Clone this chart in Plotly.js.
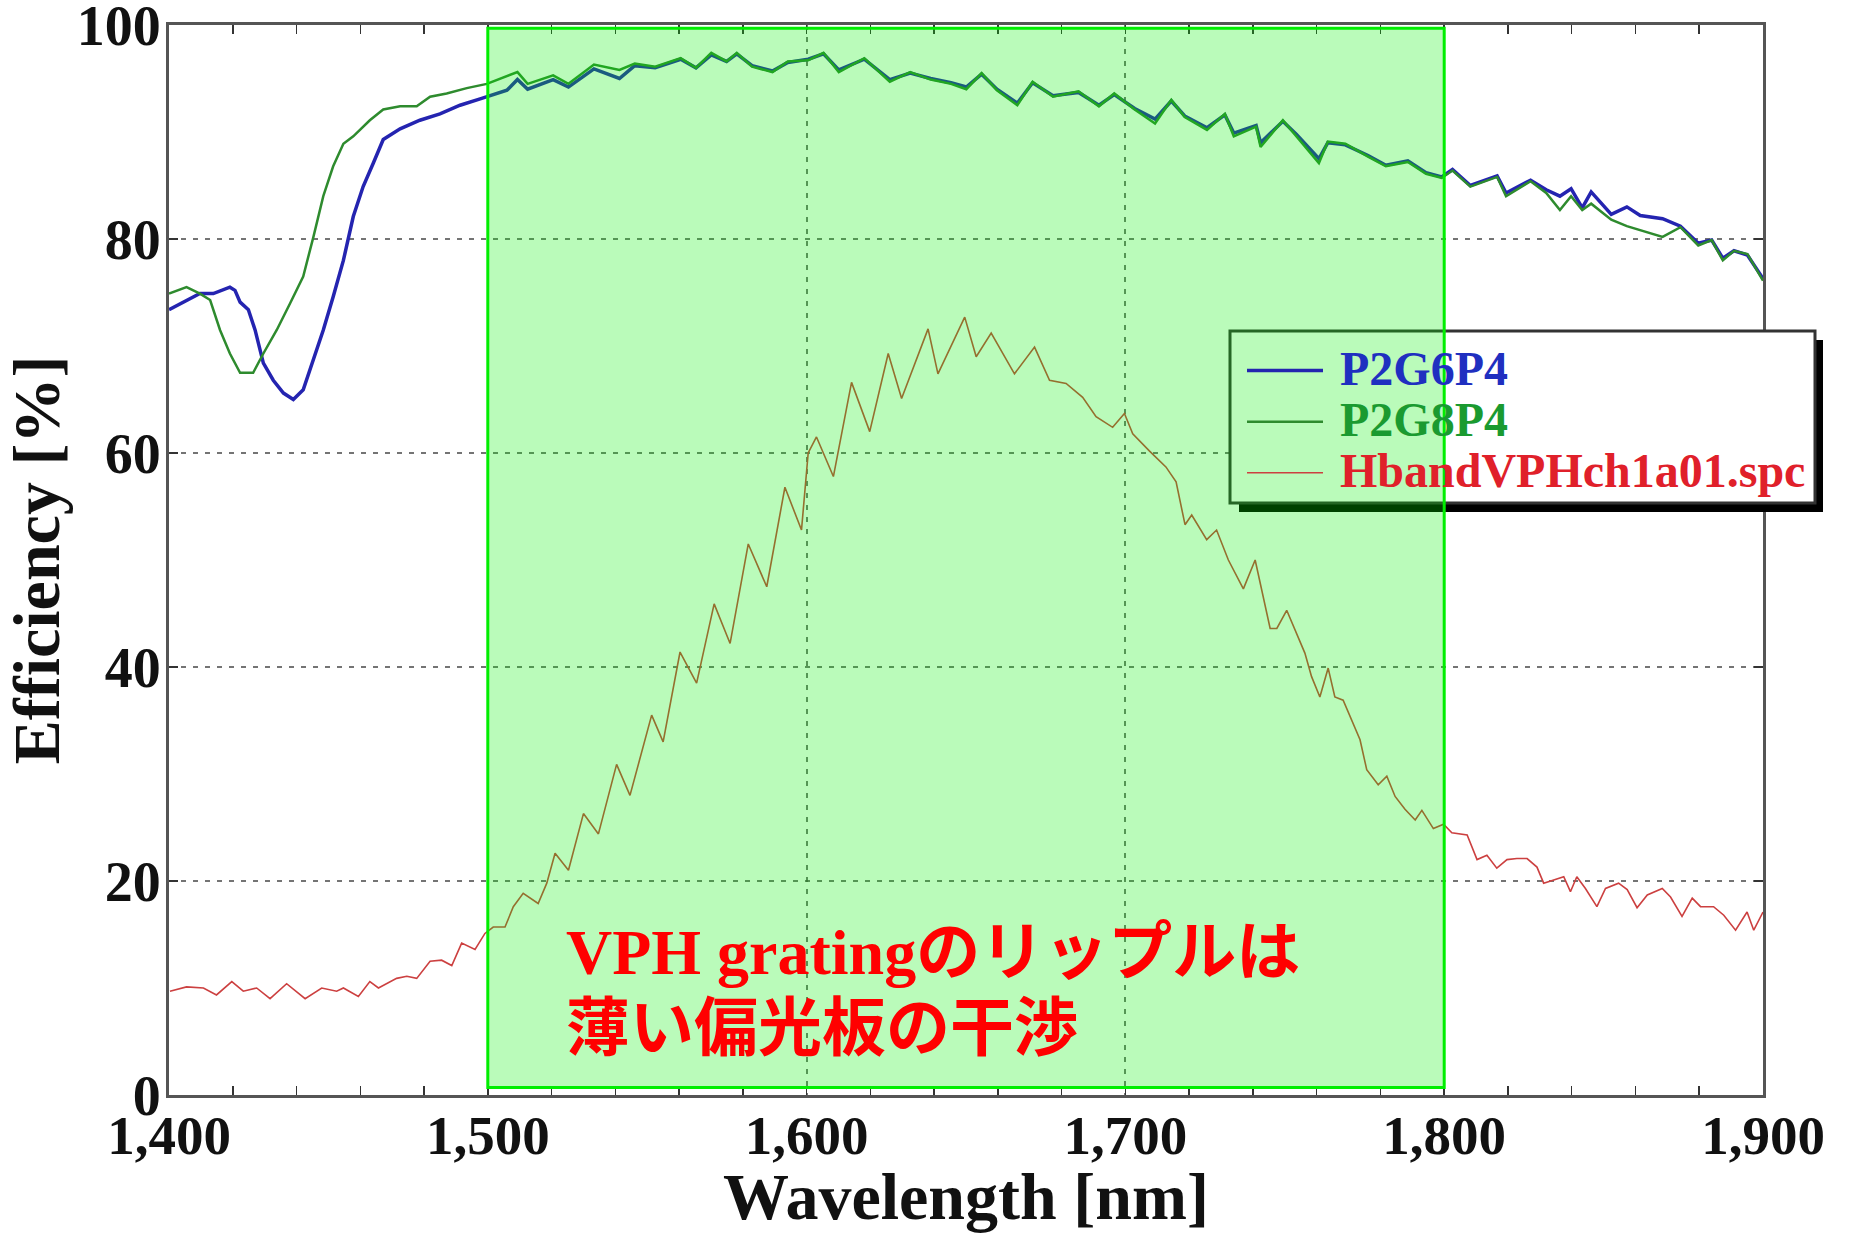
<!DOCTYPE html>
<html>
<head>
<meta charset="utf-8">
<script src="https://cdn.plot.ly/plotly-3.0.1.min.js"></script>
<style>html,body{margin:0;padding:0;background:#fff;}#chart{width:1852px;height:1233px;}</style>
</head>
<body>
<div id="chart"></div>
<script>
// ---- Data ----
const seriesNames = ["P2G6P4", "P2G8P4", "HbandVPHch1a01.spc"];

const p2g6p4_x = [1400,1405.5,1409.7,1413.9,1419.1,1420.7,1422.3,1424.9,1427,1429.6,1432.7,1435.9,1439,1442.1,1445.3,1448.4,1451.5,1454.7,1457.8,1460.9,1464.1,1467.2,1472.5,1478.7,1485,1491.3,1497.6,1501.7,1506,1509.3,1512.5,1520.5,1525.3,1533.3,1541.3,1546.1,1552.5,1560.5,1565.3,1570.1,1574.9,1578.1,1582.9,1589.3,1594.1,1600.5,1605.3,1610.1,1618.1,1626.1,1632.5,1638.9,1645.3,1650.1,1654.9,1659.7,1666.1,1670.9,1677.3,1685.3,1691.7,1696.5,1702.9,1709.3,1714.4,1718.6,1725.6,1731.2,1734,1741,1742.4,1749.4,1753.6,1760.7,1763.5,1769,1776.1,1781.7,1788.6,1794.3,1799.2,1802.6,1808.2,1816.6,1819.4,1827.1,1832,1836.3,1839.8,1843.3,1846.1,1852.4,1857.3,1861.5,1868.5,1874.1,1879.7,1883.9,1887.4,1890.9,1895.1,1900];
const p2g6p4_y = [73.4,74.3,74.9,74.9,75.5,75.2,74.1,73.4,71.5,68.4,66.8,65.6,65.0,65.9,68.7,71.5,74.6,78.0,82.1,84.9,87.1,89.3,90.3,91.1,91.7,92.5,93.1,93.5,93.9,94.9,94.0,94.9,94.2,95.9,95.0,96.2,96.0,96.8,96.0,97.2,96.6,97.3,96.2,95.7,96.5,96.8,97.3,95.8,96.8,94.9,95.5,95.0,94.6,94.2,95.4,94.0,92.7,94.6,93.4,93.7,92.5,93.5,92.2,91.2,92.9,91.5,90.4,91.6,89.9,90.6,89.0,91.0,89.8,87.5,89.0,88.8,87.8,86.9,87.3,86.2,85.8,86.5,85.0,85.9,84.3,85.5,84.6,84.0,84.7,82.9,84.4,82.3,83.0,82.2,81.9,81.2,79.6,79.9,78.2,78.9,78.5,76.3];

const p2g8p4_x = [1400,1405.5,1409.7,1412.9,1416,1419.1,1422.3,1426.4,1429.6,1433.8,1438,1442.1,1445.3,1448.4,1451.5,1454.7,1457.8,1463,1467.2,1472.5,1477.7,1481.9,1487.1,1493.4,1499.7,1509.3,1512.5,1520.5,1525.3,1533.3,1541.3,1546.1,1552.5,1560.5,1565.3,1570.1,1574.9,1578.1,1582.9,1589.3,1594.1,1600.5,1605.3,1610.1,1618.1,1626.1,1632.5,1638.9,1645.3,1650.1,1654.9,1659.7,1666.1,1670.9,1677.3,1685.3,1691.7,1696.5,1702.9,1709.3,1714.4,1718.6,1725.6,1731.2,1734,1741,1742.4,1749.4,1753.6,1760.7,1763.5,1769,1776.1,1781.7,1788.6,1794.3,1799.2,1802.6,1808.2,1816.6,1819.4,1827.1,1832,1836.3,1839.8,1843.3,1846.1,1852.4,1857.3,1861.5,1868.5,1874.1,1879.7,1883.9,1887.4,1890.9,1895.1,1900];
const p2g8p4_y = [74.9,75.5,74.9,74.3,71.5,69.3,67.5,67.5,69.3,71.5,74.0,76.5,80.2,84.0,86.8,88.9,89.6,91.1,92.1,92.4,92.4,93.3,93.6,94.1,94.5,95.6,94.5,95.3,94.5,96.3,95.8,96.4,96.1,96.9,96.0,97.4,96.6,97.4,96.1,95.6,96.6,96.7,97.4,95.6,96.9,94.7,95.6,94.9,94.5,94.0,95.5,93.9,92.5,94.7,93.3,93.8,92.4,93.6,92.1,90.8,93.0,91.4,90.2,91.7,89.6,90.5,88.6,91.1,89.6,87.1,89.1,88.9,87.7,86.8,87.2,86.1,85.7,86.4,84.9,85.8,84.0,85.4,84.3,82.7,84.0,82.7,83.3,81.8,81.2,80.8,80.2,81.1,79.4,79.9,78.0,78.9,78.6,76.1];

const hband_x = [1400.3,1405.5,1410.8,1414.9,1419.7,1423.3,1427.5,1431.7,1436.9,1442.7,1447.9,1452.6,1454.7,1459.4,1463,1465.7,1471.4,1474.6,1477.7,1481.9,1485.5,1488.7,1491.8,1496,1499.1,1501.7,1505.4,1508,1511.1,1515.8,1518.5,1521.1,1525.3,1530,1534.7,1540.4,1544.6,1551.4,1555,1560.3,1565.5,1571,1576,1581.7,1587.5,1593.2,1598.4,1600.5,1603.1,1608.4,1614.1,1619.8,1625.6,1629.8,1638.1,1641.2,1649.6,1653.2,1657.9,1665.2,1671.5,1676.2,1681.4,1686.6,1690.8,1696,1699.7,1702.3,1707.5,1712.7,1715.9,1718.7,1720.8,1725.5,1728.6,1732.3,1737,1740.7,1745.4,1747.5,1750.6,1753.7,1756.3,1758.4,1761,1763.6,1765.7,1768.3,1771.5,1773.6,1775.7,1779.3,1782,1784.6,1787.7,1790.9,1793,1796.6,1799.8,1802.4,1807.2,1810.3,1813.4,1816.5,1819.7,1822.8,1826,1829.1,1831.2,1837.5,1839.6,1841.6,1844.3,1847.9,1850.6,1854.7,1857.4,1860.5,1863.7,1868.4,1871,1874.6,1877.8,1880.4,1884.5,1887.7,1891.4,1895,1897.1,1900];
const hband_y = [9.7,10.1,10.0,9.35,10.6,9.7,10.0,9.0,10.4,9.0,10.0,9.7,10.0,9.2,10.6,10.0,10.9,11.1,10.9,12.5,12.6,12.1,14.2,13.6,15.1,15.7,15.7,17.6,18.85,17.9,19.8,22.6,21.0,26.3,24.4,30.9,28.0,35.5,33.0,41.4,38.5,45.9,42.2,51.5,47.5,56.8,52.8,60.0,61.5,57.8,66.6,62.0,69.3,65.1,71.6,67.4,72.7,69.0,71.2,67.4,69.9,66.8,66.5,65.2,63.4,62.4,63.7,61.8,60.2,58.7,57.3,53.3,54.2,51.9,52.8,50.0,47.3,50.0,43.6,43.6,45.3,43.1,41.3,39.1,37.2,39.9,37.2,36.9,34.7,33.2,30.4,29.0,29.8,27.9,26.7,25.7,26.6,24.9,25.3,24.5,24.3,22.0,22.4,21.2,22.0,22.1,22.1,21.3,19.8,20.4,19.0,20.4,19.3,17.6,19.3,19.8,19.2,17.5,18.7,19.3,18.5,16.7,18.4,17.6,17.6,16.8,15.4,17.1,15.4,17.1];

const xTickVals = [1400, 1500, 1600, 1700, 1800, 1900];
const yTickVals = [0, 20, 40, 60, 80, 100];
const bandRange = [1500, 1800];
const noteLines = ["VPH gratingのリップルは", "薄い偏光板の干渉"];
const xTitle = "Wavelength [nm]";
const yTitle = "Efficiency [%]";

// ---- Styling ----
const serif = "'Liberation Serif', 'Times New Roman', 'Noto Sans CJK JP', serif";
const lineColors = ["#2424b0", "#2e8b2e", "#cc4040"];
const textColors = ["#1f2fc0", "#1a9a30", "#e0202a"];
const lineWidths = [3.5, 2.5, 1.6];

function legendName(i) {
  return '<span style="font-size:48px;color:' + textColors[i] + '"> ' + seriesNames[i] + '</span>';
}

const traces = [
  {x: p2g6p4_x, y: p2g6p4_y, name: legendName(0), type: 'scatter', mode: 'lines',
   line: {color: lineColors[0], width: lineWidths[0]}},
  {x: p2g8p4_x, y: p2g8p4_y, name: legendName(1), type: 'scatter', mode: 'lines',
   line: {color: lineColors[1], width: lineWidths[1]}},
  {x: hband_x, y: hband_y, name: legendName(2), type: 'scatter', mode: 'lines',
   line: {color: lineColors[2], width: lineWidths[2]}}
];

const L = 169, R = 1763, T = 25, B = 1095;
function px(v) { return (v - L) / (R - L); }
function py(v) { return (B - v) / (B - T); }

const gridStyle = {showgrid: true, gridcolor: 'rgba(70,70,70,0.75)', gridwidth: 2, griddash: '5px,7px'};

const layout = {
  width: 1852, height: 1233,
  margin: {l: L, r: 1852 - R, t: T, b: 1233 - B, pad: 0},
  paper_bgcolor: '#ffffff', plot_bgcolor: '#ffffff',
  showlegend: true,
  legend: {
    x: px(1242), y: py(340), xanchor: 'left', yanchor: 'top',
    bgcolor: 'rgba(0,0,0,0)', borderwidth: 0,
    font: {family: serif, size: 37, weight: 700, color: '#000'},
    itemwidth: 76, tracegroupgap: 0, traceorder: 'normal'
  },
  xaxis: Object.assign({
    range: [1400, 1900], tickvals: xTickVals, tickformat: ',d',
    ticks: 'inside', ticklen: 9, tickwidth: 1.5, tickcolor: '#333',
    minor: {dtick: 20, ticks: 'inside', ticklen: 9, tickwidth: 1.5, tickcolor: '#333', showgrid: false},
    showline: true, linecolor: '#555', linewidth: 3, mirror: 'ticks',
    zeroline: false, ticklabelstandoff: -10, ticklabeloverflow: 'allow',
    tickfont: {family: serif, size: 55, weight: 700, color: '#111'},
    title: {text: xTitle, standoff: 30, font: {family: serif, size: 66, weight: 700, color: '#111'}}
  }, gridStyle),
  yaxis: Object.assign({
    range: [0, 100], tickvals: yTickVals,
    ticks: 'inside', ticklen: 9, tickwidth: 1.5, tickcolor: '#333',
    showline: true, linecolor: '#555', linewidth: 3, mirror: 'ticks',
    zeroline: false, ticklabelstandoff: -6, ticklabeloverflow: 'allow',
    tickfont: {family: serif, size: 56, weight: 700, color: '#111'},
    title: {text: yTitle, standoff: 10, font: {family: serif, size: 66, weight: 700, color: '#111'}}
  }, gridStyle),
  shapes: [
    // legend box shadow and body (drawn beneath the translucent band)
    {type: 'rect', xref: 'paper', yref: 'paper', layer: 'above',
     x0: px(1239), x1: px(1823), y0: py(512), y1: py(340),
     fillcolor: '#000000', line: {width: 0}},
    {type: 'rect', xref: 'paper', yref: 'paper', layer: 'above',
     x0: px(1230), x1: px(1815), y0: py(503), y1: py(331),
     fillcolor: '#ffffff', line: {color: '#333333', width: 3}},
    // highlighted wavelength band
    {type: 'rect', xref: 'x', yref: 'y', layer: 'above',
     x0: bandRange[0], x1: bandRange[1], y0: 0.7, y1: 99.7,
     fillcolor: 'rgba(0,240,0,0.27)', line: {color: '#00ee00', width: 3}}
  ],
  annotations: [
    {xref: 'x', yref: 'y', x: 1524, y: 13.3, xanchor: 'left', yanchor: 'middle', showarrow: false,
     text: noteLines[0], font: {family: serif, size: 64, weight: 700, color: '#ff0000'}},
    {xref: 'x', yref: 'y', x: 1524, y: 6.2, xanchor: 'left', yanchor: 'middle', showarrow: false,
     text: noteLines[1], font: {family: serif, size: 64, weight: 700, color: '#ff0000'}}
  ]
};

Plotly.newPlot('chart', traces, layout, {displayModeBar: false, staticPlot: true});
</script>
</body>
</html>
